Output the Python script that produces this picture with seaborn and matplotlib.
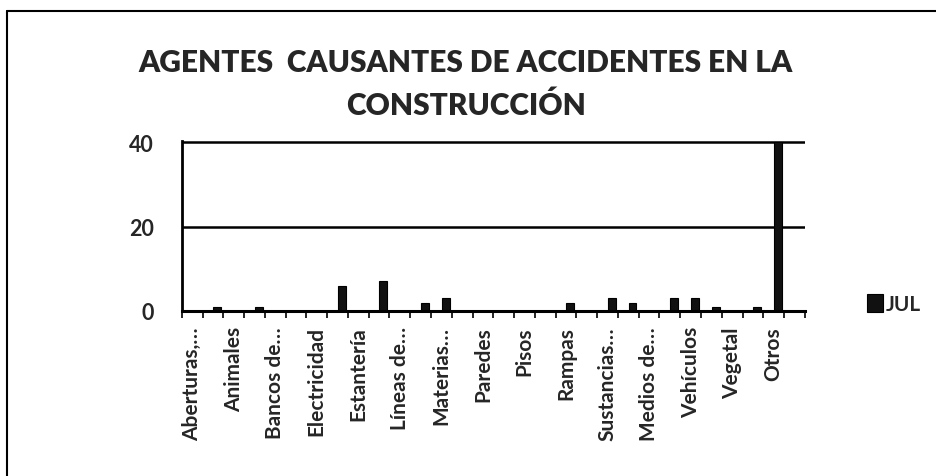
import numpy as np
import pandas as pd
import seaborn as sns
import matplotlib.pyplot as plt
from matplotlib.lines import Line2D

# Datos (30 categorias, solo las pares llevan etiqueta)
etiquetas = ["Aberturas,…", "", "Animales", "", "Bancos de…", "", "Electricidad", "",
             "Estantería", "", "Líneas de…", "", "Materias…", "", "Paredes", "",
             "Pisos", "", "Rampas", "", "Sustancias…", "", "Medios de…", "",
             "Vehículos", "", "Vegetal", "", "Otros", ""]
valores = [0, 1, 0, 1, 0, 0, 0, 6, 0, 7, 0, 2, 3, 0, 0, 0,
           0, 0, 2, 0, 3, 2, 0, 3, 3, 1, 0, 1, 40, 0]
serie = "JUL"
titulo_1 = "AGENTES  CAUSANTES DE ACCIDENTES EN LA"
titulo_2 = "CONSTRUCCIÓN"

df = pd.DataFrame({"idx": np.arange(len(valores)), "valor": valores, "serie": serie})

sns.set_style("white")
plt.rcParams["font.family"] = ["Lato", "DejaVu Sans"]

fig = plt.figure(figsize=(9.37, 4.77), dpi=100)
ax = fig.add_axes([0.194, 0.346, 0.665, 0.356])

sns.barplot(data=df, x="idx", y="valor", hue="serie", palette=["#111111"],
            width=0.38, edgecolor="black", linewidth=0.8, ax=ax)
# en el original las barras quedan algo a la derecha del centro
for p in ax.patches:
    p.set_x(p.get_x() + 0.2)

ax.set_ylim(0, 40.3)
ax.set_xlim(-0.5, len(valores) - 0.5)
ax.set_yticks([0, 20, 40])
ax.set_yticklabels(["0", "20", "40"], fontsize=15.5, fontweight="bold")
ax.yaxis.grid(True, color="black", linewidth=1.8)
ax.set_axisbelow(True)

# etiquetas cada dos categorias, marcas en los limites
ax.set_xticks(np.arange(0, len(valores), 2))
ax.set_xticklabels([etiquetas[i] for i in range(0, len(valores), 2)],
                   rotation=90, fontsize=15, fontweight="bold")
ax.set_xticks(np.arange(-0.5, len(valores), 1), minor=True)
ax.tick_params(axis="x", which="major", length=0, pad=11)
ax.tick_params(axis="x", which="minor", length=5, width=1.2, color="black", direction="out")
ax.tick_params(axis="y", length=7, width=1.5, color="black", direction="out", pad=13)
ax.tick_params(bottom=True, which="minor")

for s in ["top", "right"]:
    ax.spines[s].set_visible(False)
ax.spines["left"].set_linewidth(2)
ax.spines["bottom"].set_linewidth(2.2)
ax.spines["left"].set_color("black")
ax.spines["bottom"].set_color("black")

ax.set_xlabel("")
ax.set_ylabel("")

ax.legend(loc="center left", bbox_to_anchor=(1.07, 0.04), frameon=False,
          prop={"size": 15, "weight": "bold"}, handlelength=0.75,
          handleheight=0.9, handletextpad=0.15)

fig.text(0.497, 1 - 72 / 477, titulo_1, ha="center", va="baseline",
         fontsize=21.5, fontweight="heavy")
fig.text(0.497, 1 - 115 / 477, titulo_2, ha="center", va="baseline",
         fontsize=21.5, fontweight="heavy")

# marco exterior del grafico
fig.add_artist(Line2D([0.0075, 1.0], [0.975, 0.975], color="black", lw=1.5))
fig.add_artist(Line2D([0.0075, 0.0075], [0.0, 0.975], color="black", lw=1.5))

fig.savefig("out.png", dpi=100)
